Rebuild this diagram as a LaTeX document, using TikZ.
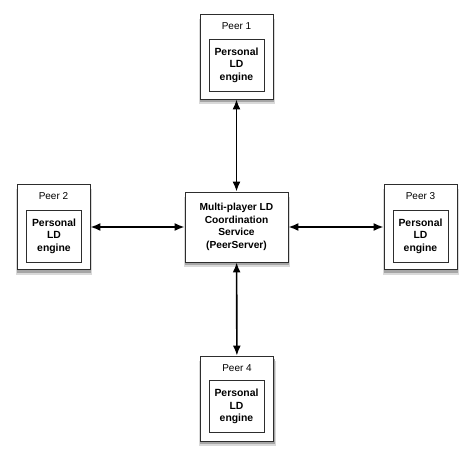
\documentclass[tikz,border=0pt]{standalone}
\usepackage{fontspec}
\setmainfont{Liberation Sans}
\usetikzlibrary{arrows.meta,backgrounds}
\definecolor{cRand}{RGB}{45,45,45}

\begin{document}
\begin{tikzpicture}[x=1pt,y=-1pt,font=\fontsize{10}{12.5}\selectfont,
  peer/.style={draw=cRand,fill=white,line width=0.9pt,minimum width=73pt,minimum height=85pt,inner sep=0pt},
  engine/.style={draw=cRand,line width=0.7pt,minimum width=55pt,minimum height=52pt,inner sep=0pt,align=center,
    font=\fontsize{10.4}{12.5}\selectfont\bfseries},
  hubbox/.style={draw=cRand,fill=white,line width=0.9pt,minimum width=103pt,minimum height=70pt,inner sep=0pt,align=center,
    font=\fontsize{10.2}{12.5}\selectfont\bfseries},
  link/.style={{Latex[length=10pt,width=8pt]}-{Latex[length=10pt,width=8pt]},line width=1.6pt}]
\useasboundingbox (0,0) rectangle (474,462);
% Koordinationsdienst in der Mitte
\node[hubbox] (hub) at (236.5,227){Multi-player LD\\Coordination\\Service\\(PeerServer)};
% Peers
\node[peer] (peer1) at (236.5,56.5){};
\node (t1) at (236.5,26){Peer 1};
\node[engine] (e1) at (236.5,65){Personal\\LD\\engine};
\node[peer] (peer2) at (53.5,227){};
\node (t2) at (53.5,196){Peer 2};
\node[engine] (e2) at (54,236){Personal\\LD\\engine};
\node[peer] (peer3) at (420.5,227){};
\node (t3) at (420.5,196){Peer 3};
\node[engine] (e3) at (420.5,236){Personal\\LD\\engine};
\node[peer] (peer4) at (237,398.5){};
\node (t4) at (237,368){Peer 4};
\node[engine] (e4) at (236.5,406.5){Personal\\LD\\engine};
% Verbindungen
\draw[link] (peer1) -- (hub);
\draw[link] (peer2) -- (hub);
\draw[link] (peer3) -- (hub);
\draw[link] (peer4) -- (hub);
% Schatten
\begin{scope}[on background layer]
\fill[white] (0,0) rectangle (474,462);
\fill[black!15] ([xshift=-1pt,yshift=-5pt]hub.south west) rectangle ([xshift=2pt,yshift=-5pt]hub.north east);
\fill[black!35] ([xshift=0pt,yshift=-3pt]hub.south west) rectangle ([xshift=1pt,yshift=-3pt]hub.north east);
\fill[black!15] ([xshift=-1pt,yshift=-5pt]peer1.south west) rectangle ([xshift=2pt,yshift=-5pt]peer1.north east);
\fill[black!35] ([xshift=0pt,yshift=-3pt]peer1.south west) rectangle ([xshift=1pt,yshift=-3pt]peer1.north east);
\fill[black!15] ([xshift=-1pt,yshift=-5pt]peer2.south west) rectangle ([xshift=2pt,yshift=-5pt]peer2.north east);
\fill[black!35] ([xshift=0pt,yshift=-3pt]peer2.south west) rectangle ([xshift=1pt,yshift=-3pt]peer2.north east);
\fill[black!15] ([xshift=-1pt,yshift=-5pt]peer3.south west) rectangle ([xshift=2pt,yshift=-5pt]peer3.north east);
\fill[black!35] ([xshift=0pt,yshift=-3pt]peer3.south west) rectangle ([xshift=1pt,yshift=-3pt]peer3.north east);
\fill[black!15] ([xshift=-1pt,yshift=-5pt]peer4.south west) rectangle ([xshift=2pt,yshift=-5pt]peer4.north east);
\fill[black!35] ([xshift=0pt,yshift=-3pt]peer4.south west) rectangle ([xshift=1pt,yshift=-3pt]peer4.north east);
\end{scope}
\end{tikzpicture}
\end{document}
